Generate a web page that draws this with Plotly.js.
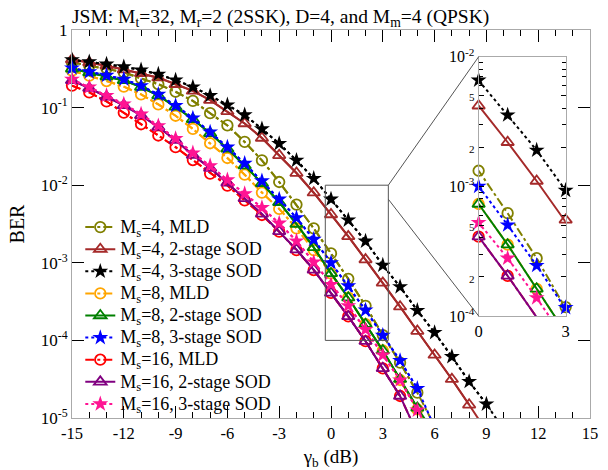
<!DOCTYPE html>
<html><head><meta charset="utf-8">
<script src="https://cdn.plot.ly/plotly-3.0.1.min.js"></script>
<style>
html,body{margin:0;padding:0;background:#fff}
</style>
</head><body><div id="chart" style="width:608px;height:470px"></div>
<script>
// SNR grid in dB (gamma_b)
const snr = [-15,-14,-13,-12,-11,-10,-9,-8,-7,-6,-5,-4,-3,-2,-1,0,1,2,3,4,5,6,7,8,9,10];

// BER values (starting at -15 dB, one per dB)
const berMs4MLD   = [0.383,0.347,0.321,0.285,0.238,0.200,0.160,0.122,0.0847,0.0589,0.0361,0.0209,0.0110,0.00562,0.00278,0.00132,6.21e-4,2.79e-4,1.17e-4,5.16e-5,2.12e-5,7.9e-6];
const berMs4SOD2  = [0.417,0.380,0.347,0.309,0.277,0.243,0.200,0.164,0.125,0.0895,0.0624,0.0406,0.0243,0.01435,0.0080,0.00419,0.00219,0.00110,5.51e-4,2.72e-4,1.32e-4,6.49e-5,3.16e-5,1.48e-5,6.8e-6];
const berMs4SOD3  = [0.412,0.389,0.363,0.335,0.305,0.269,0.226,0.184,0.143,0.108,0.0804,0.0531,0.0343,0.0209,0.0122,0.0066,0.00355,0.00190,9.3e-4,4.9e-4,2.43e-4,1.26e-4,6.17e-5,2.95e-5,1.51e-5,7.1e-6];
const berMs8MLD   = [0.299,0.258,0.220,0.186,0.148,0.110,0.0785,0.0531,0.0347,0.0224,0.01365,0.00804,0.00495,0.00278,0.00146,7.31e-4,3.55e-4,1.62e-4,7.41e-5,3.09e-5,1.29e-5,5.0e-6];
const berMs8SOD2  = [0.316,0.282,0.251,0.224,0.184,0.143,0.102,0.0708,0.0466,0.0295,0.0179,0.0106,0.00603,0.00316,0.00158,7.31e-4,3.55e-4,1.62e-4,7.41e-5,3.16e-5,1.35e-5,6.3e-6];
const berMs8SOD3  = [0.324,0.288,0.260,0.232,0.191,0.148,0.106,0.0733,0.0484,0.0309,0.0191,0.01135,0.0066,0.0038,0.0020,0.0010,5.03e-4,2.45e-4,1.16e-4,5.5e-5,2.4e-5,7.6e-6];
const berMs16MLD  = [0.192,0.157,0.120,0.0861,0.0610,0.0437,0.0309,0.0211,0.0141,0.00989,0.00638,0.00413,0.00252,0.00146,8.07e-4,4.09e-4,2.04e-4,9.77e-5,4.37e-5,1.92e-5,6.3e-6];
const berMs16SOD2 = [0.224,0.178,0.138,0.107,0.0794,0.0562,0.0380,0.0245,0.0166,0.0107,0.00676,0.00427,0.00254,0.00148,8.13e-4,4.09e-4,2.04e-4,9.77e-5,4.37e-5,1.92e-5,6.3e-6];
const berMs16SOD3 = [0.232,0.184,0.143,0.111,0.0822,0.0582,0.0398,0.0260,0.0178,0.0117,0.00776,0.00513,0.00324,0.00191,0.00102,5.25e-4,2.79e-4,1.38e-4,6.46e-5,3.09e-5,1.26e-5,5.0e-6];

const seriesNames = [
  'M<sub>s</sub>=4, MLD','M<sub>s</sub>=4, 2-stage SOD','M<sub>s</sub>=4, 3-stage SOD',
  'M<sub>s</sub>=8, MLD','M<sub>s</sub>=8, 2-stage SOD','M<sub>s</sub>=8, 3-stage SOD',
  'M<sub>s</sub>=16, MLD','M<sub>s</sub>=16, 2-stage SOD','M<sub>s</sub>=16, 3-stage SOD'];
const seriesData = [berMs4MLD,berMs4SOD2,berMs4SOD3,berMs8MLD,berMs8SOD2,berMs8SOD3,berMs16MLD,berMs16SOD2,berMs16SOD3];
const seriesColors = ['#808000','#a52a2a','#000000','#ffa500','#008000','#0000ff','#ff0000','#800080','#ff1493'];
const seriesDash = ['dashdot','solid','dot','dashdot','solid','dot','dashdot','solid','dot'];
const seriesSymbols = ['circle-open','triangle-up-open','star','circle-open','triangle-up-open','star','circle-open','triangle-up-open','star'];

// tick labels
const xTicks = [-15,-12,-9,-6,-3,0,3,6,9,12,15];
const xTickText = ['-15','-12','-9','-6','-3','0','3','6','9','12','15'];
const yTickVals = [1e-5,1e-4,1e-3,1e-2,1e-1,1];
const yTickText = ['10<sup>-5</sup>','10<sup>-4</sup>','10<sup>-3</sup>','10<sup>-2</sup>','10<sup>-1</sup>','1'];
const insetXTicks = [0, 3];
const insetYTickVals = [1e-4,2e-4,5e-4,1e-3,2e-3,5e-3,1e-2];
const insetYTickText = ['10<sup>-4</sup>','2','5','10<sup>-3</sup>','2','5','10<sup>-2</sup>'];

const xRange = [-15, 15];
const yRangeLog = [-5, 0];
const insetXRange = [0, 3];
const insetYRangeLog = [-4, -2];
const zoomBoxX = [-0.33, 3.32];
const zoomBoxY = [1e-4, 1e-2];
const connectorLowY = 6.6e-3;
const insetDomainX = [0.785, 0.953];
const insetDomainY = [0.263, 0.931];

const FONT = '"Liberation Serif", "Times New Roman", serif';

function markerFor(i){
  const sym = seriesSymbols[i];
  const isStar = sym === 'star';
  return {symbol: sym, size: isStar ? 12 : (sym.indexOf('triangle')===0 ? 11 : 10.5),
          color: seriesColors[i], line: {color: seriesColors[i], width: isStar ? 0 : 1.8}};
}

const traces = [];
seriesData.forEach((ys, i) => {
  const xs = snr.slice(0, ys.length);
  const line = {color: seriesColors[i], width: 2, dash: seriesDash[i]};
  traces.push({x: xs, y: ys, mode: 'lines', line: line, showlegend: false, hoverinfo: 'skip', xaxis: 'x', yaxis: 'y'});
  const xi = [], yi = [];
  xs.forEach((xv, k) => { if (ys[k] >= Math.pow(10, yRangeLog[0]) && xv >= xRange[0] && xv <= xRange[1]) { xi.push(xv); yi.push(ys[k]); } });
  traces.push({x: xi, y: yi, mode: 'lines+markers', name: '<span style="font-size:18px">' + seriesNames[i] + '</span>',
               line: line, marker: markerFor(i), cliponaxis: false, xaxis: 'x', yaxis: 'y'});
});
seriesData.forEach((ys, i) => {
  const xs = snr.slice(0, ys.length);
  const line = {color: seriesColors[i], width: 2, dash: seriesDash[i]};
  traces.push({x: xs, y: ys, mode: 'lines', line: line, showlegend: false, hoverinfo: 'skip', xaxis: 'x2', yaxis: 'y2'});
  const xi = [], yi = [];
  xs.forEach((xv, k) => {
    const ly = Math.log10(ys[k]);
    if (xv >= insetXRange[0] && xv <= insetXRange[1] && ly >= insetYRangeLog[0] - 1e-9 && ly <= insetYRangeLog[1]) { xi.push(xv); yi.push(ys[k]); }
  });
  traces.push({x: xi, y: yi, mode: 'markers', marker: markerFor(i), showlegend: false, cliponaxis: false, hoverinfo: 'skip', xaxis: 'x2', yaxis: 'y2'});
});
traces.push({x: [zoomBoxX[0], zoomBoxX[1], zoomBoxX[1], zoomBoxX[0], zoomBoxX[0]],
             y: [zoomBoxY[0], zoomBoxY[0], zoomBoxY[1], zoomBoxY[1], zoomBoxY[0]],
             mode: 'lines', line: {color: '#555', width: 1}, showlegend: false, hoverinfo: 'skip', xaxis: 'x', yaxis: 'y'});

const px = v => (v - xRange[0]) / (xRange[1] - xRange[0]);
const py = v => (Math.log10(v) - yRangeLog[0]) / (yRangeLog[1] - yRangeLog[0]);

const shapes = [
  {type: 'line', xref: 'paper', yref: 'paper', x0: px(zoomBoxX[1]), y0: py(zoomBoxY[1]), x1: insetDomainX[0], y1: insetDomainY[1], line: {color: '#555', width: 1}},
  {type: 'line', xref: 'paper', yref: 'paper', x0: px(zoomBoxX[1]), y0: py(connectorLowY), x1: insetDomainX[0], y1: insetDomainY[0], line: {color: '#555', width: 1}}
];

const tickFont = {family: FONT, size: 16.5, color: '#000'};
const layout = {
  width: 608, height: 470,
  margin: {l: 72, r: 18, t: 30, b: 52},
  paper_bgcolor: '#fff', plot_bgcolor: '#fff',
  font: {family: FONT, color: '#000'},
  title: {text: 'JSM: M<sub>t</sub>=32, M<sub>r</sub>=2 (2SSK), D=4, and M<sub>m</sub>=4 (QPSK)',
          font: {family: FONT, size: 19.5, color: '#000'}, x: 72/608, xanchor: 'left', xref: 'container', y: 1 - 16/470, yanchor: 'middle', yref: 'container'},
  xaxis: {domain: [0, 1], range: xRange, tickmode: 'array', tickvals: xTicks, ticktext: xTickText, ticks: 'inside', ticklen: 12, tickcolor: '#000', tickwidth: 1,
          minor: {dtick: 1, tick0: 0, ticks: 'inside', ticklen: 6, tickcolor: '#000', tickwidth: 1},
          showline: true, linecolor: '#aaa', linewidth: 1, mirror: 'ticks', showgrid: false, zeroline: false,
          tickfont: tickFont, title: {text: 'γ<sub>b</sub> (dB)', font: {family: FONT, size: 19, color: '#000'}, standoff: 8}},
  yaxis: {domain: [0, 1], type: 'log', range: yRangeLog, tickmode: 'array', tickvals: yTickVals, ticktext: yTickText,
          ticks: 'inside', ticklen: 12, tickcolor: '#000',
          showline: true, linecolor: '#aaa', linewidth: 1, mirror: 'ticks', showgrid: false, zeroline: false,
          tickfont: {family: FONT, size: 17, color: '#000'}, title: {text: 'BER', font: {family: FONT, size: 20, color: '#000'}, standoff: 10}},
  xaxis2: {domain: insetDomainX, anchor: 'y2', range: insetXRange, tickmode: 'array', tickvals: insetXTicks, ticks: '',
           showline: true, linecolor: '#aaa', linewidth: 1, mirror: true, showgrid: false, zeroline: false, tickfont: tickFont},
  yaxis2: {domain: insetDomainY, anchor: 'x2', type: 'log', range: insetYRangeLog, tickmode: 'array', tickvals: insetYTickVals, ticktext: insetYTickText,
           ticks: 'inside', ticklen: 5, tickcolor: '#000',
           minor: {dtick: 'D1', ticks: 'inside', ticklen: 4, tickcolor: '#000'},
           showline: true, linecolor: '#aaa', linewidth: 1, mirror: 'ticks', showgrid: false, zeroline: false,
           tickfont: {family: FONT, size: 16, color: '#000'}},
  legend: {x: 0.016, y: 0.5335, xanchor: 'left', yanchor: 'top', bgcolor: 'rgba(0,0,0,0)', borderwidth: 0,
           font: {family: FONT, size: 14.7, color: '#000'}, tracegroupgap: 0, itemwidth: 30},
  shapes: shapes,
  showlegend: true
};

Plotly.newPlot('chart', traces, layout, {displayModeBar: false, staticPlot: true}).then(() => {
  document.querySelectorAll('#chart .y2tick text').forEach(t => {
    if (/^[25]$/.test(t.textContent.trim())) t.style.setProperty('font-size', '11px');
  });
});
</script>
</body></html>
